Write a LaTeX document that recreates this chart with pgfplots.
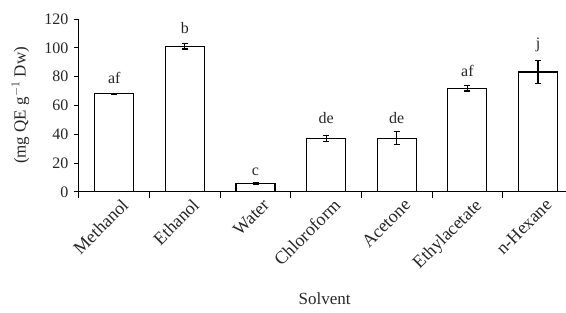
\documentclass[border=0pt]{standalone}
\usepackage{pgfplots}
\pgfplotsset{compat=1.18}
\usepackage{fontspec}
\setmainfont{Liberation Serif}
\begin{document}
\fontsize{16}{18}\selectfont
\begin{tikzpicture}
\begin{axis}[
  scale only axis,
  width=487pt, height=173pt,
  xmin=-0.5, xmax=6.39,
  ymin=0, ymax=120,
  ytick={0,20,...,120},
  xtick={0,1,2,3,4,5,6},
  xticklabels={Methanol,Ethanol,Water,Chloroform,Acetone,Ethylacetate,n-Hexane},
  minor xtick={-0.5,0.5,1.5,2.5,3.5,4.5,5.5},
  axis lines=left,
  axis line style={-, line width=0.9pt, black},
  every tick/.style={black, line width=0.9pt},
  major tick length=5pt,
  minor tick length=6pt,
  major x tick style={draw=none},
  minor x tick style={draw=black, line width=0.9pt},
  tick align=outside,
  tick pos=left,
  /pgf/number format/assume math mode=true,
  tick label style={font=\fontsize{16}{18}\selectfont, text=black!85},
  x tick label style={font=\fontsize{18}{20}\selectfont, rotate=45, anchor=north east, inner sep=1pt, xshift=5pt, yshift=-4pt},
  ylabel={(mg QE g$^{-1}$ Dw)},
  xlabel={Solvent},
  label style={font=\fontsize{17}{19}\selectfont, text=black!85},
  ylabel style={at={(axis description cs:-0.12,0.5)}, anchor=center},
  xlabel style={at={(axis description cs:0.505,-0.62)}, anchor=center},
  clip=false,
]
\addplot[ybar, bar width=39pt, fill=white, draw=black, line width=1.2pt,
  error bars/.cd, y dir=both, y explicit,
  error bar style={line width=1.2pt, black},
  error mark options={rotate=90, mark size=3pt, line width=1.2pt, black}]
coordinates {
(0,68) +- (0,0.5)
(1,101) +- (0,1.8)
(2,6) +- (0,0.5)
(3,37) +- (0,2)
(4,37.2) +- (0,4.6)
(5,71.8) +- (0,1.8)
(6,83.2) +- (0,7.9)
};
\addplot[only marks, mark=none, nodes near coords, point meta=explicit symbolic,
  nodes near coords style={anchor=center, font=\fontsize{16}{18}\selectfont, text=black!85}]
coordinates {
(0,79) [af]
(1,114) [b]
(2,14) [c]
(3,51.5) [de]
(4,51.5) [de]
(5,84) [af]
(6,102) [j]
};
\path (rel axis cs:0,0) ++(-79pt,-121pt) (rel axis cs:1,1) ++(0pt,19pt);
\end{axis}
\end{tikzpicture}
\end{document}
